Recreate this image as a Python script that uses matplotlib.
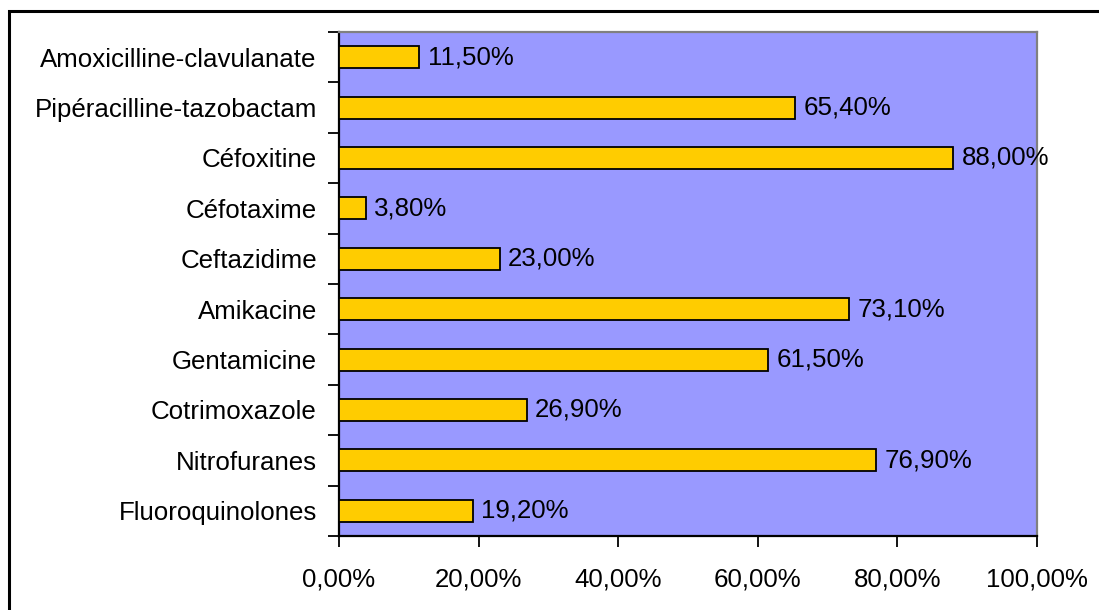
import matplotlib.pyplot as plt
from matplotlib.patches import Rectangle
from matplotlib.ticker import FuncFormatter, MultipleLocator

categories = [
    "Amoxicilline-clavulanate",
    "Pipéracilline-tazobactam",
    "Céfoxitine",
    "Céfotaxime",
    "Ceftazidime",
    "Amikacine",
    "Gentamicine",
    "Cotrimoxazole",
    "Nitrofuranes",
    "Fluoroquinolones",
]
values = [11.5, 65.4, 88.0, 3.8, 23.0, 73.1, 61.5, 26.9, 76.9, 19.2]

plt.rcParams["font.family"] = ["Liberation Sans", "DejaVu Sans"]
FS = 18.6

W, H = 1099, 610
fig = plt.figure(figsize=(W / 100, H / 100), dpi=100)
fig.patch.set_facecolor("white")

# outer chart frame
fig.add_artist(Rectangle((9 / W, 0 - 0.05), (W + 20) / W, (H - 11) / H + 0.05,
                         transform=fig.transFigure, fill=False,
                         edgecolor="black", linewidth=2.2, zorder=0))

ax = fig.add_axes([339 / W, 1 - 536 / H, (1037 - 339) / W, (536 - 32) / H])
ax.set_facecolor("#9999FF")

n = len(categories)
ypos = list(range(n))[::-1]
ax.barh(ypos, values, height=0.44, color="#FFCC00", edgecolor="black",
        linewidth=1.3, zorder=3)

for y, v in zip(ypos, values):
    ax.text(v + 1.2, y, f"{v:.2f}".replace(".", ",") + "%", va="center",
            ha="left", fontsize=FS, color="black", zorder=4)

ax.set_xlim(0, 100)
ax.set_ylim(-0.5, n - 0.5)
ax.xaxis.set_major_locator(MultipleLocator(20))
ax.xaxis.set_major_formatter(FuncFormatter(lambda x, p: f"{x:.2f}".replace(".", ",") + "%"))

# category labels between boundary ticks
ax.set_yticks([i - 0.5 for i in range(n + 1)])
ax.set_yticklabels([])
ax.set_yticks(ypos, minor=True)
ax.set_yticklabels(categories, minor=True, fontsize=FS)
ax.tick_params(axis="y", which="major", direction="out", length=8, width=1.3)
ax.tick_params(axis="y", which="minor", length=0, pad=16)
ax.tick_params(axis="x", direction="out", length=8, width=1.3, labelsize=FS, pad=15)

for side in ("left", "bottom"):
    ax.spines[side].set_color("black")
    ax.spines[side].set_linewidth(1.6)
for side in ("top", "right"):
    ax.spines[side].set_color("#808080")
    ax.spines[side].set_linewidth(1.6)

fig.savefig("out.png", dpi=100)
